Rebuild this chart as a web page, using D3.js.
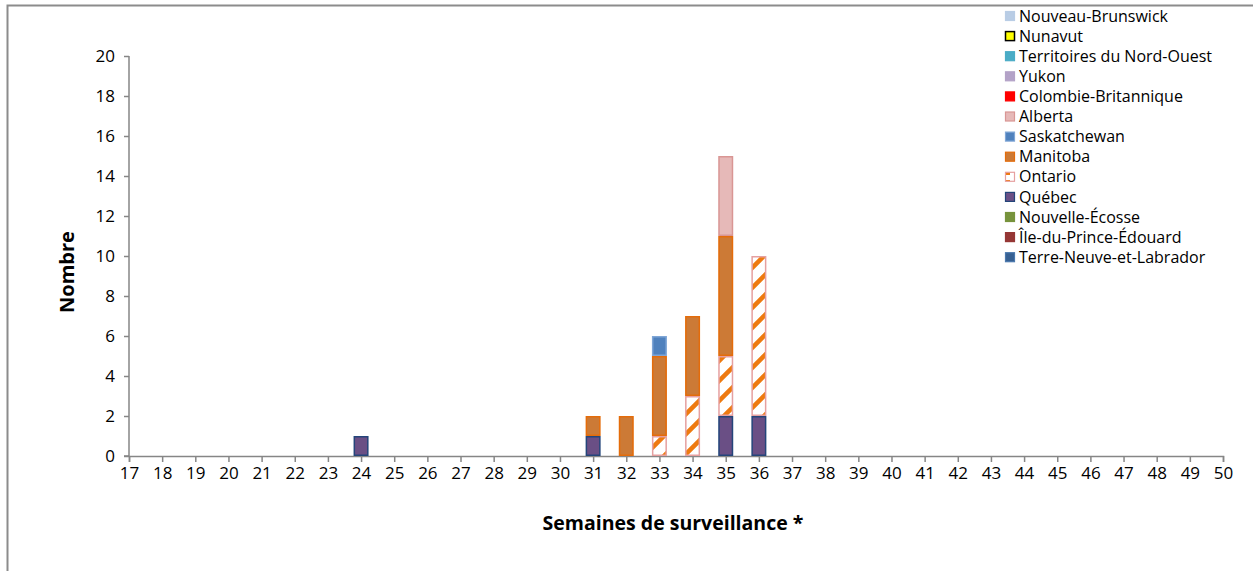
<!DOCTYPE html>
<html><head><meta charset="utf-8">
<script src="https://cdn.jsdelivr.net/npm/d3@7"></script>
<style>body{margin:0;background:#fff}svg{display:block;font-family:"Open Sans",sans-serif}</style>
</head><body>
<svg id="c" width="1253" height="571"></svg>
<script>
const weeks = ["17","18","19","20","21","22","23","24","25","26","27","28","29","30","31","32","33","34","35","36","37","38","39","40","41","42","43","44","45","46","47","48","49","50"];
// stacked from bottom to top
const provinces = ["Terre-Neuve-et-Labrador","Île-du-Prince-Édouard","Nouvelle-Écosse","Québec","Ontario","Manitoba","Saskatchewan","Alberta","Colombie-Britannique","Yukon","Territoires du Nord-Ouest","Nunavut","Nouveau-Brunswick"];
const tnl  = [0,0,0,0,0,0,0,0,0,0,0,0,0,0,0,0,0,0,0,0,0,0,0,0,0,0,0,0,0,0,0,0,0,0];
const ipe  = [0,0,0,0,0,0,0,0,0,0,0,0,0,0,0,0,0,0,0,0,0,0,0,0,0,0,0,0,0,0,0,0,0,0];
const ne   = [0,0,0,0,0,0,0,0,0,0,0,0,0,0,0,0,0,0,0,0,0,0,0,0,0,0,0,0,0,0,0,0,0,0];
const qc   = [0,0,0,0,0,0,0,1,0,0,0,0,0,0,1,0,0,0,2,2,0,0,0,0,0,0,0,0,0,0,0,0,0,0];
const on   = [0,0,0,0,0,0,0,0,0,0,0,0,0,0,0,0,1,3,3,8,0,0,0,0,0,0,0,0,0,0,0,0,0,0];
const mb   = [0,0,0,0,0,0,0,0,0,0,0,0,0,0,1,2,4,4,6,0,0,0,0,0,0,0,0,0,0,0,0,0,0,0];
const sk   = [0,0,0,0,0,0,0,0,0,0,0,0,0,0,0,0,1,0,0,0,0,0,0,0,0,0,0,0,0,0,0,0,0,0];
const ab   = [0,0,0,0,0,0,0,0,0,0,0,0,0,0,0,0,0,0,4,0,0,0,0,0,0,0,0,0,0,0,0,0,0,0];
const cb   = [0,0,0,0,0,0,0,0,0,0,0,0,0,0,0,0,0,0,0,0,0,0,0,0,0,0,0,0,0,0,0,0,0,0];
const yk   = [0,0,0,0,0,0,0,0,0,0,0,0,0,0,0,0,0,0,0,0,0,0,0,0,0,0,0,0,0,0,0,0,0,0];
const tno  = [0,0,0,0,0,0,0,0,0,0,0,0,0,0,0,0,0,0,0,0,0,0,0,0,0,0,0,0,0,0,0,0,0,0];
const nu   = [0,0,0,0,0,0,0,0,0,0,0,0,0,0,0,0,0,0,0,0,0,0,0,0,0,0,0,0,0,0,0,0,0,0];
const nb   = [0,0,0,0,0,0,0,0,0,0,0,0,0,0,0,0,0,0,0,0,0,0,0,0,0,0,0,0,0,0,0,0,0,0];
const seriesValues = [tnl,ipe,ne,qc,on,mb,sk,ab,cb,yk,tno,nu,nb];
const yTicks = [0,2,4,6,8,10,12,14,16,18,20];
const fills   = ["#376092","#953735","#77933c","#6a4f85","url(#onpat)","#cc7a36","#4f81bd","#e6b9b8","#ff0000","#b3a2c7","#4bacc6","#ffff00","#b9cde5"];
const strokes = ["#4a78ad","#953735","#77933c","#24457a","#e6a0a0","#e46c0a","#7fa6d6","#d99694","#ff0000","#b3a2c7","#4bacc6","#000000","#b9cde5"];

const svg = d3.select("#c");
const defs = svg.append("defs");
const pat = defs.append("pattern").attr("id","onpat").attr("patternUnits","userSpaceOnUse")
  .attr("width",20).attr("height",20);
pat.append("rect").attr("width",20).attr("height",20).attr("fill","#fff");
pat.append("path").attr("d","M-5,25 L25,-5 M-5,5 L5,-5 M15,25 L25,15").attr("stroke","#ee7a10").attr("stroke-width",4.5);
const pat2 = defs.append("pattern").attr("id","onpatL").attr("patternUnits","userSpaceOnUse")
  .attr("width",10).attr("height",10).attr("x",1005).attr("y",170);
pat2.append("rect").attr("width",10).attr("height",10).attr("fill","#fff");
pat2.append("path").attr("d","M0,0 h5 v5 h-5z").attr("fill","#ee7a10");

// outer border
svg.append("path").attr("d","M7.5,571 V5.5 H1253").attr("fill","none").attr("stroke","#8c8c8c").attr("stroke-width",2);

const x = d3.scalePoint().domain(weeks).range([129,1223]);
const y = d3.scaleLinear().domain([0,20]).range([456,56]);

// axes
const ya = svg.append("g").attr("transform","translate(129,0)")
  .call(d3.axisLeft(y).tickValues(yTicks).tickSize(5).tickPadding(9));
const xa = svg.append("g").attr("transform","translate(0,456)")
  .call(d3.axisBottom(x).tickSize(6).tickPadding(5));
[ya,xa].forEach(g=>{
  g.selectAll("path,line").attr("stroke","#868686").attr("stroke-width",1.5);
  g.selectAll("text").attr("fill","#000").style("font-size","17px").style("font-family","'Open Sans', sans-serif");
});
ya.select(".domain").attr("d","M0,56 V456 H-5");

// stacked bars
const table = weeks.map((w,i)=>{ const o={week:w}; provinces.forEach((p,k)=>o[p]=seriesValues[k][i]); return o; });
const stack = d3.stack().keys(provinces)(table);
const bw = 15;
stack.forEach((layer,k)=>{
  svg.append("g").selectAll("rect").data(layer.filter(d=>d[1]-d[0]>0)).join("rect")
    .attr("x",d=>x(d.data.week)-bw/2+0.75).attr("width",bw-1.5)
    .attr("y",d=>y(d[1])+0.75).attr("height",d=>y(d[0])-y(d[1])-1.5)
    .attr("fill",fills[k]).attr("stroke",strokes[k]).attr("stroke-width",1.5);
});

// axis titles
svg.append("text").attr("x",673).attr("y",530).attr("text-anchor","middle")
  .style("font-size","19.5px").style("font-weight","bold").text("Semaines de surveillance *");
svg.append("text").attr("transform","translate(74,272) rotate(-90)").attr("text-anchor","middle")
  .style("font-size","20px").style("font-weight","bold").text("Nombre");

// legend (reverse order)
const leg = provinces.slice().reverse();
const lg = svg.append("g");
leg.forEach((p,i)=>{
  const k = provinces.indexOf(p);
  const cy = 16 + i*20.1;
  lg.append("rect").attr("x",1005.5).attr("y",cy-4.5).attr("width",9).attr("height",9)
    .attr("fill", p==="Ontario" ? "url(#onpatL)" : fills[k])
    .attr("stroke", p==="Nunavut" ? "#000" : strokes[k]).attr("stroke-width", p==="Nunavut"?1.5:1.2);
  lg.append("text").attr("x",1019).attr("y",cy).attr("dy","0.35em").style("font-size","16px").text(p);
});
</script>
</body></html>
